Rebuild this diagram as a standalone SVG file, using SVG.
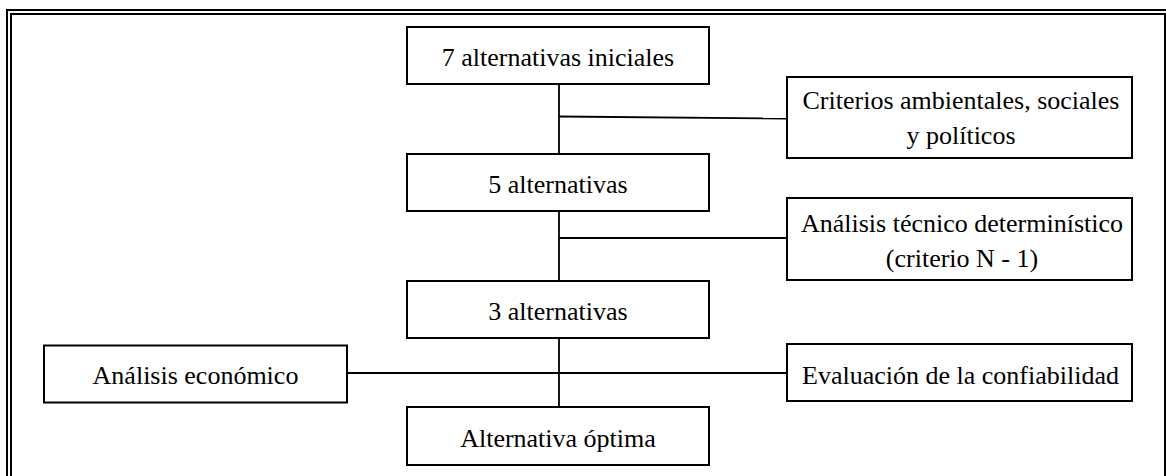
<svg xmlns="http://www.w3.org/2000/svg" width="1166" height="476" viewBox="0 0 1166 476">
  <style>
    .frame { fill: none; stroke: #000; stroke-width: 2; }
    .box { fill: #fff; stroke: #000; stroke-width: 2; }
    .link { fill: none; stroke: #000; stroke-width: 1.8; }
    .label { font-family: "Liberation Serif", "Times New Roman", serif; font-size: 26px; fill: #000; text-anchor: middle; }
  </style>
  <rect width="1166" height="476" fill="#fff"/>

  <!-- double page border -->
  <g id="border">
    <path class="frame" d="M6 10 H1166 M7 9 V476"/>
    <path class="frame" d="M10 14 H1166 M11 13 V476 M1165 13 V476"/>
  </g>

  <!-- connectors -->
  <g id="connectors">
    <path class="link" d="M559 84 V154 M559 211 V281 M559 338 V407"/>
    <path class="link" d="M559 116.5 L787 118.5"/>
    <path class="link" d="M559 238 H787"/>
    <path class="link" d="M347 373 H787"/>
  </g>

  <g id="n-iniciales">
    <rect class="box" x="407" y="27" width="302" height="57"/>
    <text class="label" x="558" y="66">7 alternativas iniciales</text>
  </g>

  <g id="n-criterios">
    <rect class="box" x="787" y="77" width="345" height="81"/>
    <text class="label" x="961" y="108.5">Criterios ambientales, sociales</text>
    <text class="label" x="961" y="143.5">y políticos</text>
  </g>

  <g id="n-cinco">
    <rect class="box" x="407" y="154" width="302" height="57"/>
    <text class="label" x="558" y="193">5 alternativas</text>
  </g>

  <g id="n-tecnico">
    <rect class="box" x="787" y="198" width="345" height="82"/>
    <text class="label" x="962" y="231.5">Análisis técnico determinístico</text>
    <text class="label" x="962" y="266.5">(criterio N - 1)</text>
  </g>

  <g id="n-tres">
    <rect class="box" x="407" y="281" width="302" height="57"/>
    <text class="label" x="558" y="319.5">3 alternativas</text>
  </g>

  <g id="n-economico">
    <rect class="box" x="44" y="345.5" width="303" height="57"/>
    <text class="label" x="195.5" y="384">Análisis económico</text>
  </g>

  <g id="n-confiabilidad">
    <rect class="box" x="787" y="344" width="345" height="57"/>
    <text class="label" x="960.5" y="383.5">Evaluación de la confiabilidad</text>
  </g>

  <g id="n-optima">
    <rect class="box" x="407" y="407" width="302" height="58"/>
    <text class="label" x="558" y="446.5">Alternativa óptima</text>
  </g>
</svg>
